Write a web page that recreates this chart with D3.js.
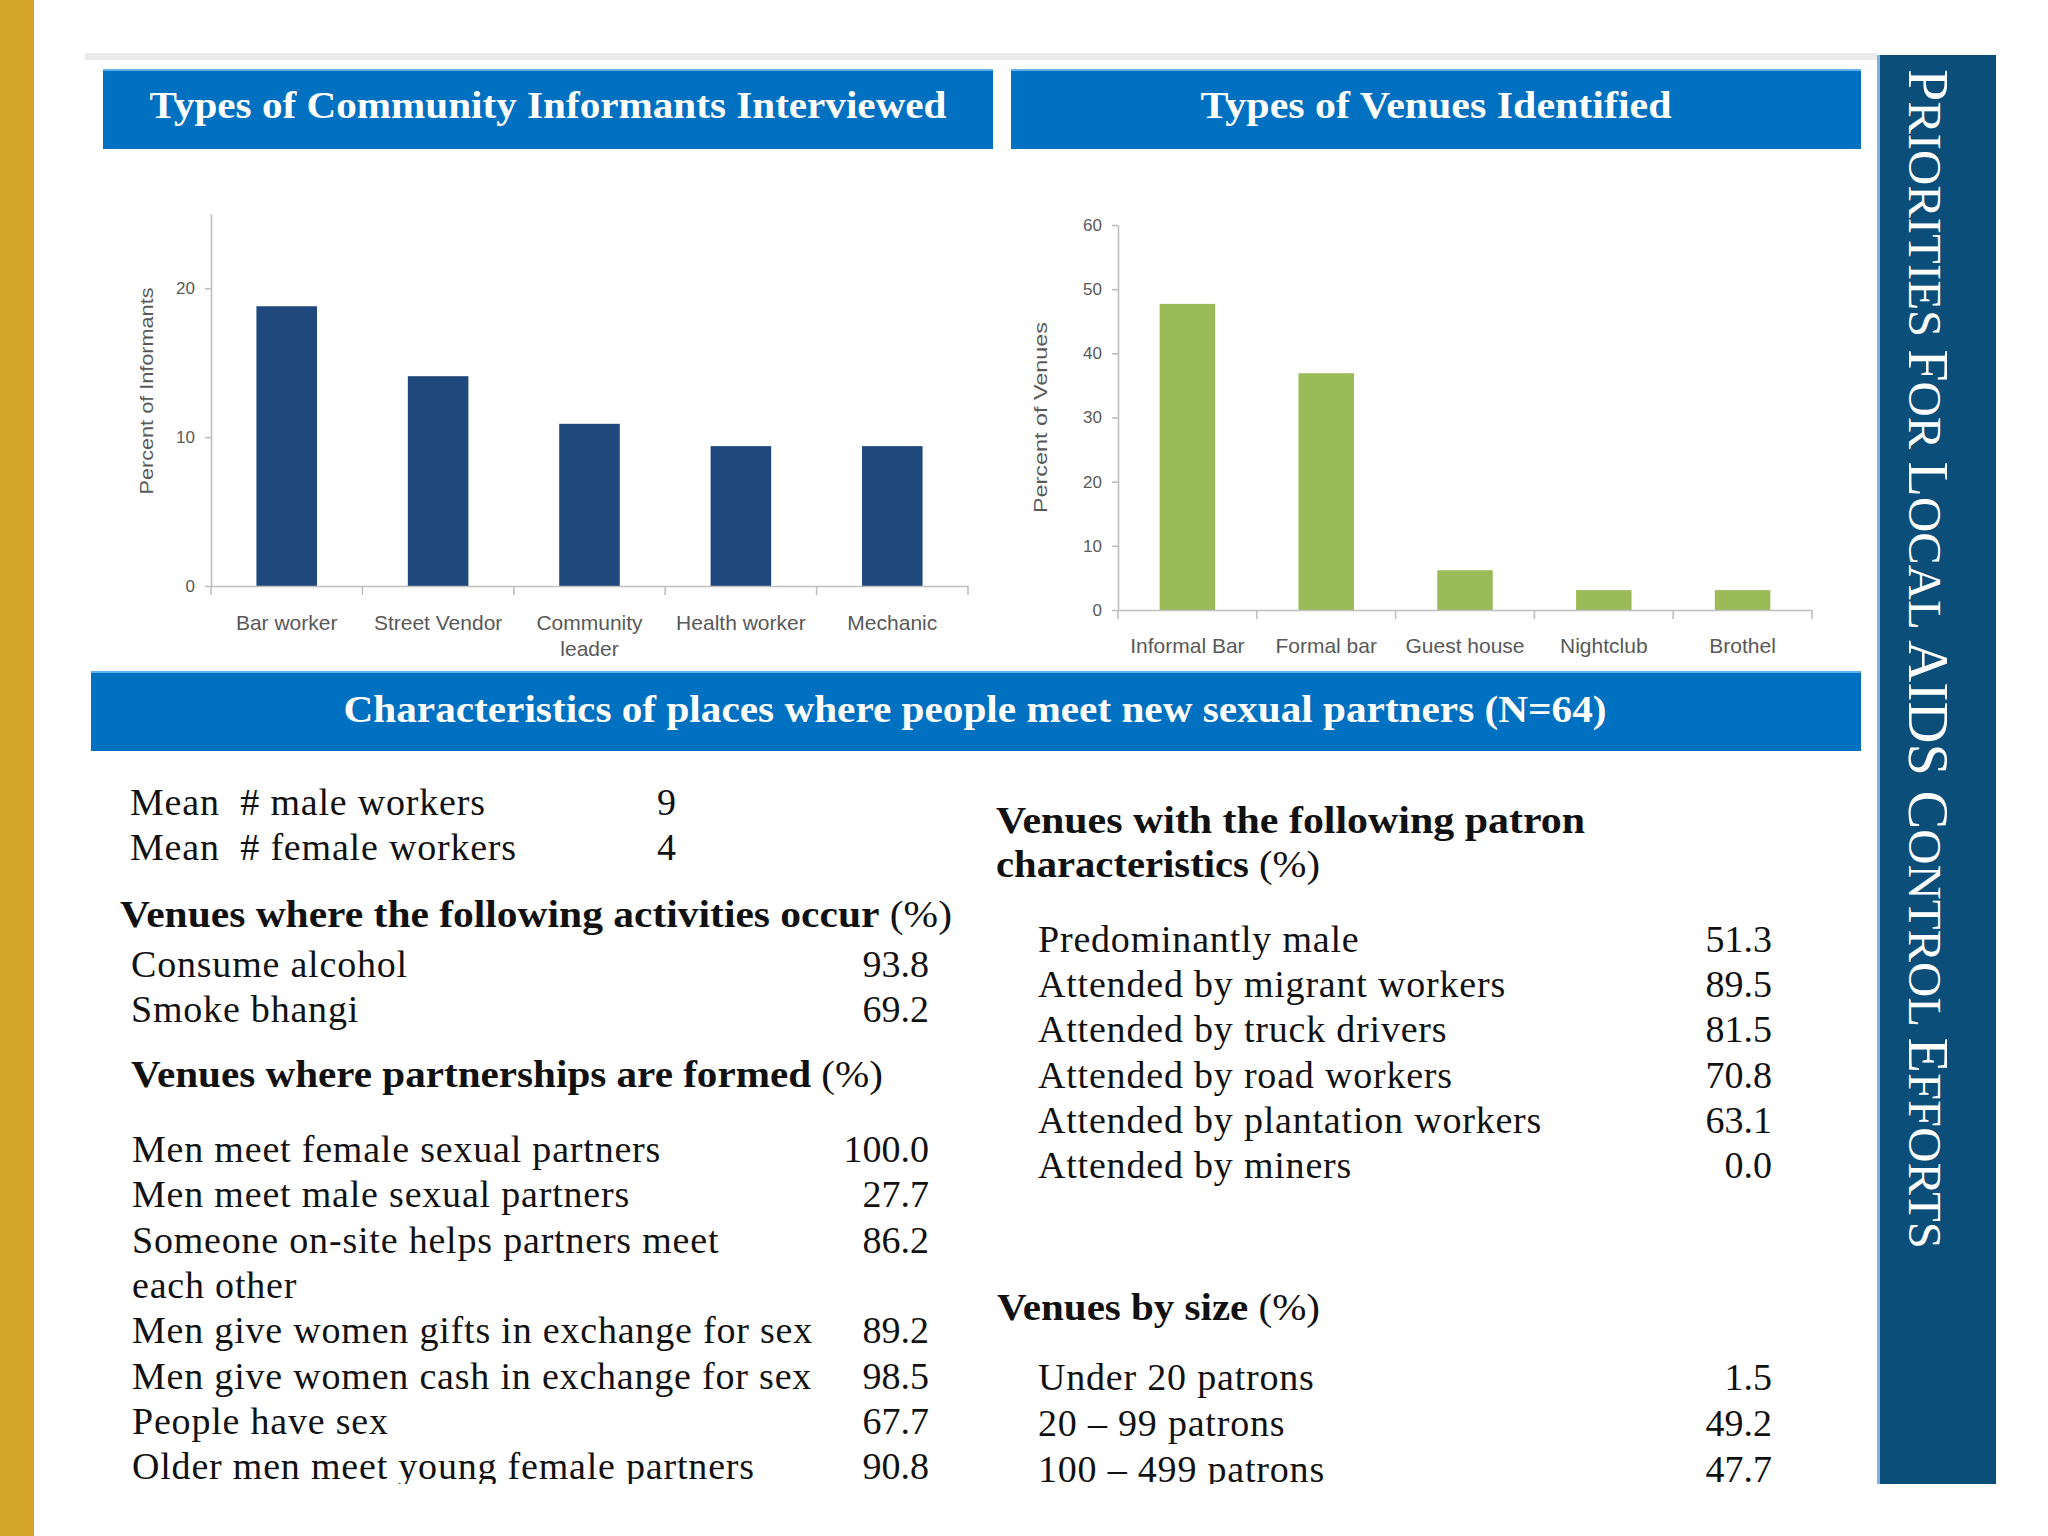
<!DOCTYPE html>
<html>
<head>
<meta charset="utf-8">
<script src="https://cdn.jsdelivr.net/npm/d3@7"></script>
<style>
  body { margin: 0; background: #fff; }
  svg { display: block; }
</style>
</head>
<body>
<svg id="page" width="2048" height="1536"></svg>
<script>

// chart data
var informantTypes = ["Bar worker", "Street Vendor", "Community leader", "Health worker", "Mechanic"];
var informantPct = [18.8, 14.1, 10.9, 9.4, 9.4];
var informantTicks = [0, 10, 20];

var venueTypes = ["Informal Bar", "Formal bar", "Guest house", "Nightclub", "Brothel"];
var venuePct = [47.7, 36.9, 6.2, 3.1, 3.1];
var venueTicks = [0, 10, 20, 30, 40, 50, 60];

// table data
var workerLabels = ["Mean  # male workers", "Mean  # female workers"];
var workerValues = ["9", "4"];

var activityLabels = ["Consume alcohol", "Smoke bhangi"];
var activityValues = ["93.8", "69.2"];

var partnershipLabels = ["Men meet female sexual partners", "Men meet male sexual partners",
  "Someone on-site helps partners meet|each other", "Men give women gifts in exchange for sex",
  "Men give women cash in exchange for sex", "People have sex", "Older men meet young female partners"];
var partnershipValues = ["100.0", "27.7", "86.2", "89.2", "98.5", "67.7", "90.8"];

var patronLabels = ["Predominantly male", "Attended by migrant workers", "Attended by truck drivers",
  "Attended by road workers", "Attended by plantation workers", "Attended by miners"];
var patronValues = ["51.3", "89.5", "81.5", "70.8", "63.1", "0.0"];

var sizeLabels = ["Under 20 patrons", "20 \u2013 99 patrons", "100 \u2013 499 patrons"];
var sizeValues = ["1.5", "49.2", "47.7"];


var svg = d3.select("#page");
var SERIF = "'Liberation Serif', 'Times New Roman', serif";
var SANS = "'Liberation Sans', Arial, sans-serif";

svg.append("rect").attr("width", 2048).attr("height", 1536).attr("fill", "#fff");

// gold stripe on the left
svg.append("rect").attr("x", 0).attr("y", 0).attr("width", 34).attr("height", 1536).attr("fill", "#d5a629");

// faint gray band at top
svg.append("rect").attr("x", 85).attr("y", 53).attr("width", 1792).attr("height", 7).attr("fill", "#ebebeb");

// blue heading boxes
function titleBox(x, y, w, h, label, cx, baseline, len) {
  svg.append("rect").attr("x", x).attr("y", y).attr("width", w).attr("height", h).attr("fill", "#0070c0");
  svg.append("rect").attr("x", x).attr("y", y).attr("width", w).attr("height", 2).attr("fill", "#5fb0ee");
  svg.append("text")
    .attr("x", cx).attr("y", baseline)
    .attr("text-anchor", "middle")
    .attr("font-family", SERIF).attr("font-weight", "bold").attr("font-size", 37)
    .attr("fill", "#fff")
    .attr("textLength", len).attr("lengthAdjust", "spacingAndGlyphs")
    .text(label);
}
titleBox(103, 69, 890, 80, "Types of Community Informants Interviewed", 548, 118, 797);
titleBox(1011, 69, 850, 80, "Types of Venues Identified", 1436, 118, 471);
titleBox(91, 671, 1770, 80, "Characteristics of places where people meet new sexual partners (N=64)", 975, 722, 1263);

// right side dark panel
svg.append("rect").attr("x", 1877).attr("y", 55).attr("width", 119).attr("height", 1429).attr("fill", "#0a4e79");
svg.append("rect").attr("x", 1877).attr("y", 55).attr("width", 3).attr("height", 1429).attr("fill", "#7fb3de");
var panelWords = [["P", "RIORITIES "], ["F", "OR "], ["L", "OCAL "], ["AIDS ", ""], ["C", "ONTROL "], ["E", "FFORTS"]];
var pt = svg.append("text")
  .attr("transform", "translate(1909,69) rotate(90)")
  .attr("font-family", SERIF).attr("fill", "#fff")
  .attr("textLength", 1180).attr("lengthAdjust", "spacingAndGlyphs");
panelWords.forEach(function(w) {
  pt.append("tspan").attr("font-size", 56).text(w[0]);
  if (w[1]) pt.append("tspan").attr("font-size", 47).text(w[1]);
});


// bar charts
function barChart(cats, vals, color, xr, yMax, yr, ticks, yLabel, yLabelX, yLabelLen, pad) {
  var g = svg.append("g");

  var x = d3.scaleBand()
    .domain(cats)
    .range(xr)
    .paddingInner(0.6)
    .paddingOuter(0.3);

  var y = d3.scaleLinear()
    .domain([0, yMax])
    .range(yr);

  // bars
  g.selectAll("rect.bar")
    .data(cats)
    .enter()
    .append("rect")
      .attr("class", "bar")
      .attr("x", function(d) { return x(d); })
      .attr("y", function(d, i) { return y(vals[i]); })
      .attr("width", x.bandwidth())
      .attr("height", function(d, i) { return y(0) - y(vals[i]); })
      .attr("fill", color);

  // Y axis
  var ya = g.append("g")
    .attr("transform", "translate(" + xr[0] + ",0)")
    .call(d3.axisLeft(y).tickValues(ticks).tickSize(6).tickSizeOuter(0).tickPadding(10));

  // X axis
  var xa = g.append("g")
    .attr("transform", "translate(0," + y(0) + ")")
    .call(d3.axisBottom(x).tickSize(0).tickSizeOuter(0).tickPadding(pad));

  // category boundary ticks
  xa.selectAll("line.bt")
    .data(d3.range(cats.length + 1))
    .enter()
    .append("line")
      .attr("class", "bt")
      .attr("x1", function(i) { return x.range()[0] + i * x.step(); })
      .attr("x2", function(i) { return x.range()[0] + i * x.step(); })
      .attr("y1", 0).attr("y2", 9);

  [ya, xa].forEach(function(a) {
    a.selectAll("path, line").attr("stroke", "#bfbfbf").attr("stroke-width", 1.6);
    a.selectAll("text").attr("fill", "#595959").attr("font-family", SANS);
  });
  ya.selectAll("text").attr("font-size", 17);
  xa.selectAll("text").attr("font-size", 21).call(wrap, 140);

  g.append("text")
    .attr("transform", "translate(" + yLabelX + "," + ((yr[0] + yr[1]) / 2 + (yLabel.length > 18 ? -9 : 0)) + ") rotate(-90)")
    .attr("text-anchor", "middle")
    .attr("font-family", SANS).attr("font-size", 18).attr("fill", "#595959")
    .attr("textLength", yLabelLen).attr("lengthAdjust", "spacingAndGlyphs")
    .text(yLabel);
}

barChart(informantTypes, informantPct, "#1f487c", [211, 968], 25, [586, 214], informantTicks,
  "Percent of Informants", 153, 207, 29);
barChart(venueTypes, venuePct, "#9bbb59", [1118, 1812], 60, [610, 225], venueTicks,
  "Percent of Venues", 1047, 191, 28);


// table of characteristics
var table = svg.append("g").attr("clip-path", "url(#tableClip)");
svg.append("clipPath").attr("id", "tableClip")
  .append("rect").attr("x", 0).attr("y", 760).attr("width", 1870).attr("height", 724);

function heading(x, y, bold, rest, len) {
  var t = table.append("text")
    .attr("x", x).attr("y", y)
    .attr("font-family", SERIF).attr("font-size", 38).attr("fill", "#111")
    .attr("textLength", len).attr("lengthAdjust", "spacingAndGlyphs");
  t.append("tspan").attr("font-weight", "bold").text(bold);
  if (rest) t.append("tspan").text(rest);
}

function rows(labels, values, x, xv, y0, step, anchor) {
  var line = 0;
  labels.forEach(function(lab, i) {
    var parts = lab.split("|");
    table.append("text")
      .attr("x", xv).attr("y", y0 + line * step)
      .attr("text-anchor", anchor || "end")
      .attr("font-family", SERIF).attr("font-size", 38).attr("fill", "#111")
      .text(values[i]);
    parts.forEach(function(p) {
      table.append("text")
        .attr("x", x).attr("y", y0 + line * step)
        .attr("font-family", SERIF).attr("font-size", 38).attr("fill", "#111")
        .attr("letter-spacing", 0.8)
        .style("white-space", "pre")
        .text(p);
      line++;
    });
  });
}

// left column
rows(workerLabels, workerValues, 130, 657, 815, 45, "start");
heading(120, 927, "Venues where the following activities occur", " (%)", 832);
rows(activityLabels, activityValues, 131, 929, 977, 45);
heading(131, 1087, "Venues where partnerships are formed", " (%)", 752);
rows(partnershipLabels, partnershipValues, 132, 929, 1162, 45.3);

// right column
heading(996, 833, "Venues with the following patron", "", 589);
heading(996, 877, "characteristics", " (%)", 324);
rows(patronLabels, patronValues, 1038, 1772, 952, 45.2);
heading(997, 1320, "Venues by size", " (%)", 323);
rows(sizeLabels, sizeValues, 1038, 1772, 1390, 46);


function wrap(text, width) {
  text.each(function() {
    var text = d3.select(this),
        words = text.text().split(/\s+/).reverse(),
        word,
        line = [],
        lineNumber = 0,
        lineHeight = 1.25, // ems
        y = text.attr("y"),
        dy = parseFloat(text.attr("dy")),
        tspan = text.text(null).append("tspan").attr("x", 0).attr("y", y).attr("dy", dy + "em");
    while (word = words.pop()) {
      line.push(word);
      tspan.text(line.join(" "));
      if (tspan.node().getComputedTextLength() > width) {
        line.pop();
        tspan.text(line.join(" "));
        line = [word];
        tspan = text.append("tspan").attr("x", 0).attr("y", y).attr("dy", ++lineNumber * lineHeight + dy + "em").text(word);
      }
    }
  });
}

</script>
</body>
</html>
